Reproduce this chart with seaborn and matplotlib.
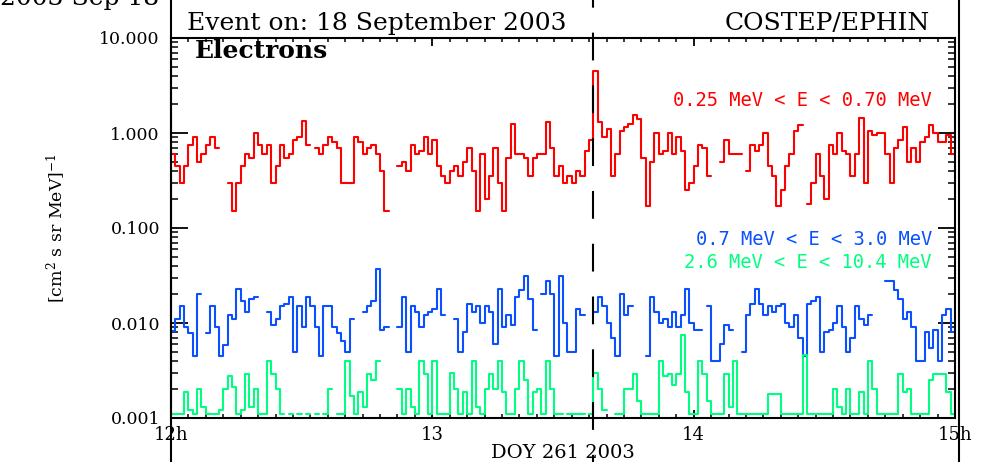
import numpy as np
import pandas as pd
import matplotlib
matplotlib.use("Agg")
import matplotlib.pyplot as plt
from matplotlib.lines import Line2D
from matplotlib.transforms import blended_transform_factory
from matplotlib.ticker import LogLocator, NullFormatter, MultipleLocator
import seaborn as sns

nan = np.nan

# 1-minute electron intensities, DOY 261 2003, 12:00-15:00 UT
START_HOUR = 12.0
EVENT_HOUR = 13 + 37 / 60

flux_e025 = [
    0.6, 0.45, 0.3, 0.45, 0.75, 0.9, 0.5, 0.6, 0.75, 0.9,
    0.7, nan, nan, 0.3, 0.15, 0.3, 0.45, 0.6, 0.55, 1.0,
    0.75, 0.6, 0.75, 0.3, 0.45, 0.75, 0.55, 0.6, 0.85, 0.9,
    1.35, 0.75, nan, 0.7, 0.6, 0.75, 0.9, 0.8, 0.7, 0.3,
    0.3, 0.3, 0.9, 0.8, 0.6, 0.7, 0.75, 0.6, 0.4, 0.15,
    nan, nan, 0.45, 0.5, 0.4, 0.75, 0.6, 0.65, 0.9, 0.6,
    0.85, 0.45, 0.35, 0.3, 0.4, 0.45, 0.35, 0.5, 0.7, 0.4,
    0.15, 0.6, 0.2, 0.35, 0.7, 0.3, 0.15, 0.55, 1.25, 0.6,
    0.6, 0.55, 0.35, 0.55, 0.6, 0.6, 1.3, 0.7, 0.35, 0.45,
    0.3, 0.35, 0.3, 0.4, 0.35, 0.65, 0.85, 4.5, 1.3, 0.9,
    1.1, 0.35, 0.6, 1.05, 1.15, 1.25, 1.55, 1.4, 0.55, 0.17,
    0.5, 1.0, 0.6, 0.65, 1.0, 0.6, 0.9, 0.65, 0.25, 0.3,
    0.45, 0.75, 0.7, 0.35, nan, nan, 0.5, 0.85, 0.6, 0.6,
    0.6, nan, 0.4, 0.75, 0.65, 0.75, 1.0, 0.45, 0.35, 0.17,
    0.25, 0.45, 0.6, 1.05, 1.2, nan, 0.18, 0.3, 0.6, 0.35,
    0.2, 0.75, 0.6, 1.0, 0.65, 0.6, 0.35, 0.6, 1.45, 0.3,
    1.05, 0.95, 1.0, 1.0, 0.6, 0.3, 0.7, 0.85, 1.15, 0.5,
    0.7, 0.5, 0.8, 0.9, 1.2, 1.0, 0.8, 0.8, 0.95, 0.6,
]

flux_e07 = [
    0.0083, 0.011, 0.015, 0.009, 0.0078, 0.0045, 0.02, nan, 0.0079, 0.015,
    0.009, 0.0045, 0.0058, 0.012, 0.011, 0.023, 0.017, 0.013, 0.018, 0.019,
    nan, nan, 0.013, 0.0095, 0.011, 0.015, 0.016, 0.019, 0.005, 0.015,
    0.009, 0.019, 0.015, 0.009, 0.0045, 0.015, 0.015, 0.009, 0.0079, 0.0065,
    0.005, 0.011, nan, nan, 0.013, 0.015, 0.017, 0.037, 0.0085, 0.009,
    nan, nan, 0.009, 0.019, 0.005, 0.015, 0.013, 0.009, 0.012, 0.013,
    0.014, 0.023, 0.012, nan, nan, 0.011, 0.005, 0.008, 0.016, 0.013,
    0.015, 0.01, 0.015, 0.013, 0.006, 0.023, 0.009, 0.012, 0.0095, 0.019,
    0.022, 0.031, 0.018, 0.0085, nan, 0.02, 0.028, 0.02, 0.0045, 0.031,
    0.01, 0.005, 0.005, 0.014, 0.012, nan, nan, 0.013, 0.019, 0.015,
    0.01, 0.007, 0.0045, 0.02, 0.012, 0.015, nan, nan, nan, 0.0045,
    0.019, 0.013, 0.01, 0.011, 0.009, 0.013, 0.009, 0.012, 0.023, 0.01,
    0.0085, 0.0085, nan, 0.015, 0.004, 0.004, 0.006, 0.0095, 0.0085, nan,
    nan, 0.005, 0.012, 0.016, 0.023, 0.016, 0.012, 0.015, 0.013, 0.015,
    0.016, 0.01, 0.009, 0.012, 0.007, 0.0045, 0.016, 0.017, 0.019, 0.005,
    0.008, 0.0085, 0.01, 0.015, 0.009, 0.005, 0.007, 0.015, 0.011, 0.0095,
    0.012, nan, nan, nan, 0.028, 0.028, 0.022, 0.018, 0.011, 0.013,
    0.009, 0.004, 0.004, 0.008, 0.0055, 0.0085, 0.004, 0.012, 0.014, 0.008,
]

flux_e26 = [
    0.0011, 0.0011, 0.0011, 0.0019, 0.0012, 0.0011, 0.002, 0.0013, 0.0011, 0.0011,
    0.0011, 0.0012, 0.002, 0.0028, 0.0021, 0.0011, 0.0012, 0.0029, 0.0013, 0.002,
    0.0011, 0.0011, 0.004, 0.0029, 0.002, 0.0011, nan, 0.0011, nan, 0.0011,
    nan, 0.0011, nan, 0.0011, nan, 0.0011, 0.002, nan, 0.0011, 0.0011,
    0.004, 0.0017, 0.0011, 0.0019, 0.0013, 0.0029, 0.0025, 0.004, nan, nan,
    nan, nan, 0.002, 0.0011, 0.002, 0.0013, 0.0011, 0.004, 0.0029, 0.0011,
    0.004, 0.0011, 0.0011, 0.0011, 0.003, 0.002, 0.0011, 0.0019, 0.0011, 0.004,
    0.0013, 0.0011, 0.002, 0.0029, 0.002, 0.004, 0.0019, 0.0011, 0.0011, 0.002,
    0.004, 0.0025, 0.0011, 0.0019, 0.002, 0.0011, 0.004, 0.002, 0.0011, 0.0011,
    nan, 0.0011, 0.0011, 0.0011, 0.0011, nan, 0.0011, 0.003, 0.002, 0.0012,
    nan, nan, 0.0011, 0.0011, 0.002, 0.002, 0.0029, 0.0015, 0.0011, 0.0011,
    0.0011, 0.0011, 0.004, 0.0028, 0.0029, 0.0022, 0.0029, 0.0075, 0.0019, 0.0011,
    0.0011, 0.004, 0.0029, 0.0015, 0.0011, 0.0011, 0.0011, 0.0029, 0.0013, 0.004,
    0.0011, 0.0011, 0.0011, 0.0011, 0.0011, 0.0011, 0.0011, 0.0018, 0.0018, 0.0018,
    0.0011, 0.0011, 0.0011, 0.0011, 0.0011, 0.0046, 0.0011, 0.0011, 0.0011, 0.0011,
    0.0011, 0.0011, 0.002, 0.0013, 0.0011, 0.002, 0.0011, 0.0011, 0.0019, 0.0011,
    0.004, 0.002, 0.0011, 0.0011, 0.0011, 0.0011, 0.0011, 0.0029, 0.0019, 0.002,
    0.0011, 0.0011, 0.0011, 0.0011, 0.0025, 0.0029, 0.0029, 0.0029, 0.0019, 0.0011,
]

channels = ["0.25 MeV < E < 0.70 MeV", "0.7 MeV < E < 3.0 MeV", "2.6 MeV < E < 10.4 MeV"]
channel_colors = ["#ff0000", "#0a50ff", "#00ff80"]

ytick_values = [0.001, 0.01, 0.1, 1.0, 10.0]
ytick_labels = ["0.001", "0.010", "0.100", "1.000", "10.000"]
xtick_values = [12, 13, 14, 15]
xtick_labels = ["12h", "13", "14", "15h"]


def step_rows(values, name):
    """Split a series at data gaps; each run gets a closing point so the last
    1-minute bin is drawn as a full step."""
    vals = np.asarray(values, dtype=float)
    rows, seg, i, n = [], 0, 0, len(vals)
    while i < n:
        if np.isnan(vals[i]):
            i += 1
            continue
        j = i
        while j + 1 < n and not np.isnan(vals[j + 1]):
            j += 1
        key = f"{name}#{seg}"
        for k in range(i, j + 1):
            rows.append((name, key, START_HOUR + k / 60, vals[k]))
        rows.append((name, key, START_HOUR + (j + 1) / 60, vals[j]))
        seg += 1
        i = j + 1
    return rows


records = []
for name, series in zip(channels, [flux_e025, flux_e07, flux_e26]):
    records += step_rows(series, name)
df = pd.DataFrame(records, columns=["channel", "segment", "hour", "flux"])

sns.set_theme(style="ticks", rc={
    "axes.edgecolor": "black", "axes.linewidth": 1.5,
    "xtick.color": "black", "ytick.color": "black",
    "text.color": "black", "axes.labelcolor": "black",
})
plt.rcParams["font.family"] = ["DejaVu Serif", "DejaVu Sans"]
plt.rcParams["mathtext.fontset"] = "dejavuserif"

W, H = 991, 462
fig = plt.figure(figsize=(W / 100, H / 100), dpi=100)
L, R, T, B = 171, 955, 38, 418
ax = fig.add_axes([L / W, 1 - B / H, (R - L) / W, (B - T) / H])

sns.lineplot(
    data=df, x="hour", y="flux", hue="channel", units="segment",
    estimator=None, hue_order=channels,
    palette=dict(zip(channels, channel_colors)),
    drawstyle="steps-post", linewidth=1.5, legend=False, ax=ax,
)

ax.set_yscale("log")
ax.set_ylim(0.001, 10)
ax.set_xlim(12, 15)

ax.set_yticks(ytick_values, ytick_labels)
ax.yaxis.set_minor_locator(LogLocator(base=10, subs=np.arange(2, 10)))
ax.yaxis.set_minor_formatter(NullFormatter())
ax.set_xticks(xtick_values, xtick_labels)
ax.xaxis.set_minor_locator(MultipleLocator(4 / 60))

ax.tick_params(axis="y", which="major", direction="in", length=12, width=1.3,
               left=True, right=True, labelsize=12.5, pad=8)
ax.tick_params(axis="y", which="minor", direction="in", length=5, width=1.1,
               left=True, right=True)
ax.tick_params(axis="x", which="major", direction="in", length=6, width=1.3,
               top=True, bottom=True, labelsize=13, pad=6)
ax.tick_params(axis="x", which="minor", direction="in", length=3, width=1.1,
               top=True, bottom=True)

ax.set_xlabel("DOY 261 2003", fontsize=14, labelpad=0)
ax.set_ylabel("[cm$^2$ s sr MeV]$^{-1}$", fontsize=12.5)
ax.yaxis.set_label_coords((68 - L) / (R - L), 0.5)

# event onset marker across the whole panel height
trans = blended_transform_factory(ax.transData, fig.transFigure)
lw_evt = 1.5
fig.add_artist(Line2D([EVENT_HOUR, EVENT_HOUR], [1, 0], transform=trans,
                      color="black", linewidth=lw_evt, zorder=10,
                      linestyle=(14.5 / lw_evt, (20.0 / lw_evt, 18.0 / lw_evt))))

# panel frame lines running the full figure height
for xp in (L, 959):
    fig.add_artist(Line2D([xp / W, xp / W], [0, 1], transform=fig.transFigure,
                          color="black", linewidth=1.5))

fig.text(187 / W, 1 - 30 / H, "Event on: 18 September 2003", fontsize=18,
         va="baseline", ha="left")
fig.text(930 / W, 1 - 30 / H, "COSTEP/EPHIN", fontsize=18,
         va="baseline", ha="right")
fig.text(0 / W, 1 - 5 / H, "2003 Sep 18", fontsize=18, va="baseline", ha="left")
fig.text(195 / W, 1 - 58 / H, "Electrons", fontsize=18, fontweight="bold",
         va="baseline", ha="left")

for name, color, yp in zip(channels, channel_colors, [100, 240, 262]):
    fig.text(932 / W, 1 - yp / H, name, color=color, fontsize=13.5,
             family="DejaVu Sans Mono", va="center", ha="right")

fig.savefig("out.png", dpi=100)
